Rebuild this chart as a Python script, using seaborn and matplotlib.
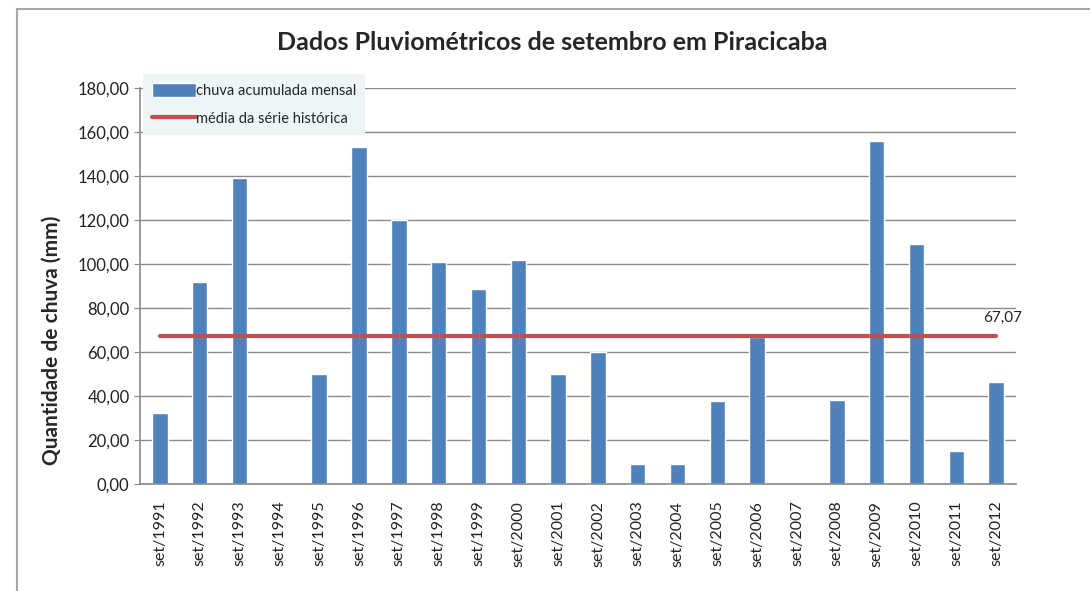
import matplotlib
matplotlib.use("Agg")
import pandas as pd
import seaborn as sns
import matplotlib.pyplot as plt

anos = ['set/1991', 'set/1992', 'set/1993', 'set/1994', 'set/1995', 'set/1996',
        'set/1997', 'set/1998', 'set/1999', 'set/2000', 'set/2001', 'set/2002',
        'set/2003', 'set/2004', 'set/2005', 'set/2006', 'set/2007', 'set/2008',
        'set/2009', 'set/2010', 'set/2011', 'set/2012']
chuva = [32.5, 92.0, 139.3, 0.0, 50.2, 153.2, 119.8, 100.8, 88.8, 101.8, 50.2,
         60.0, 9.0, 9.0, 37.6, 67.0, 0.0, 38.2, 155.8, 109.2, 15.2, 46.4]
media = 67.07
yticks = [0, 20, 40, 60, 80, 100, 120, 140, 160, 180]

sns.set_style('white')
plt.rcParams['font.family'] = ['Lato', 'DejaVu Sans']

df = pd.DataFrame({'ano': anos, 'chuva': chuva})

fig = plt.figure(figsize=(10.9, 5.91), dpi=100)
ax = fig.add_axes([140/1090, 1-484/591, 876/1090, 396/591])

sns.barplot(data=df, x='ano', y='chuva', color='#4f81bd', width=0.39,
            saturation=1, ax=ax, label='chuva acumulada mensal', zorder=2)
ax.plot(anos, [media]*len(anos), color='#c0504d', lw=3,
        label='média da série histórica', zorder=3)
ax.annotate(f'{media:.2f}'.replace('.', ','), xy=(len(anos)-1, media),
            xytext=(5, 8), textcoords='offset points', ha='center', va='bottom',
            fontsize=11, color='#222222')

ax.set_xlim(-0.5, len(anos)-0.5)
ax.set_ylim(0, 180)
ax.set_yticks(yticks)
ax.set_yticklabels([f'{v:.2f}'.replace('.', ',') for v in yticks], fontsize=12, color='#222222')
ax.tick_params(axis='x', rotation=90, labelsize=11.5, colors='#222222', length=0, pad=12)
ax.tick_params(axis='y', length=4, color='#888888', left=True)
ax.yaxis.grid(True, color='#8a8a8a', lw=1)
ax.set_axisbelow(True)
for s in ['top', 'right']:
    ax.spines[s].set_visible(False)
for s in ['left', 'bottom']:
    ax.spines[s].set_color('#8a8a8a')
    ax.spines[s].set_linewidth(1.2)

ax.set_xlabel('')
ax.set_ylabel('Quantidade de chuva (mm)', fontsize=15, fontweight='bold', va='center')
ax.yaxis.set_label_coords(-0.1005, 0.362)
fig.text(552/1090, 1-43/591, 'Dados Pluviométricos de setembro em Piracicaba',
         ha='center', va='center', fontsize=18, fontweight='bold')

handles, labels = ax.get_legend_handles_labels()
order = [labels.index('chuva acumulada mensal'), labels.index('média da série histórica')]
leg = ax.legend([handles[i] for i in order], [labels[i] for i in order],
                loc='upper left', bbox_to_anchor=(143/1090, 1-74/591),
                bbox_transform=fig.transFigure, fontsize=10.5, frameon=True,
                fancybox=False, borderaxespad=0, handlelength=3.0, handleheight=1.1,
                handletextpad=0.0, labelspacing=0.9, borderpad=0.6)
leg.get_frame().set_facecolor('#eef5f7')
leg.get_frame().set_edgecolor('none')
leg.get_frame().set_alpha(1)

fig.add_artist(plt.Rectangle((17/1090, -0.1), 1.2, 1-9/591+0.1, transform=fig.transFigure,
                             fill=False, edgecolor='#a6a6a6', lw=1.5))

fig.savefig('out.png', dpi=100)
